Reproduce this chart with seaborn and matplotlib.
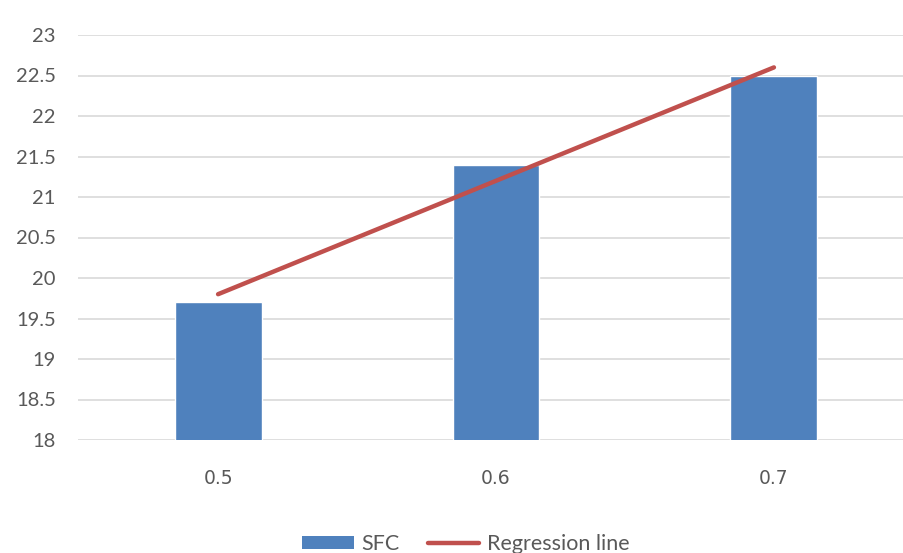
import matplotlib
matplotlib.use("Agg")
import matplotlib.pyplot as plt
import seaborn as sns
import pandas as pd
from matplotlib.patches import Patch
from matplotlib.lines import Line2D

categories = ["0.5", "0.6", "0.7"]
sfc = [19.7, 21.4, 22.5]
regression = [19.8, 21.2, 22.6]
yticks = [18, 18.5, 19, 19.5, 20, 20.5, 21, 21.5, 22, 22.5, 23]

bar_color = "#4F81BD"
line_color = "#C0504D"
text_color = "#595959"

sns.set_theme(style="white")

df = pd.DataFrame({"cat": categories, "SFC": sfc, "reg": regression})

fig = plt.figure(figsize=(9.04, 5.53), dpi=100)
ax = fig.add_axes([78 / 904, 1 - 440 / 553, 1 - 78 / 904, (440 - 35) / 553])

sns.barplot(data=df, x="cat", y="SFC", color=bar_color, saturation=1,
            width=0.313, ax=ax, zorder=2)
sns.pointplot(data=df, x="cat", y="reg", color=line_color, marker="",
              linestyle="-", ax=ax, zorder=3)
for l in ax.lines:
    l.set_linewidth(3.2)
    l.set_solid_capstyle("round")

ax.set_ylim(18, 23)
ax.set_xlim(-0.504, 2.468)
ax.set_yticks(yticks)
ax.set_yticklabels([f"{v:g}" for v in yticks], family="Lato", fontsize=14.5,
                   color=text_color)
ax.set_xticks(range(len(categories)))
ax.set_xticklabels(categories, family="DejaVu Sans", fontsize=13.5,
                   color=text_color)
ax.tick_params(axis="y", length=0, pad=16)
ax.tick_params(axis="x", length=0, pad=21)
ax.yaxis.grid(True, color="#D9D9D9", linewidth=1.2)
ax.set_axisbelow(True)
for s in ax.spines.values():
    s.set_visible(False)
ax.set_xlabel("")
ax.set_ylabel("")

handles = [Patch(facecolor=bar_color, edgecolor="none"),
           Line2D([0], [0], color=line_color, linewidth=3.2)]
leg = fig.legend(handles, ["SFC", "Regression line"], loc="center",
                 bbox_to_anchor=(466 / 904, 1 - 544 / 553), ncol=2,
                 frameon=False, prop={"family": "Lato", "size": 15.5},
                 handlelength=2.4, handleheight=0.6, columnspacing=1.3,
                 handletextpad=0.35)
for t in leg.get_texts():
    t.set_color(text_color)

fig.savefig("out.png", dpi=100)
